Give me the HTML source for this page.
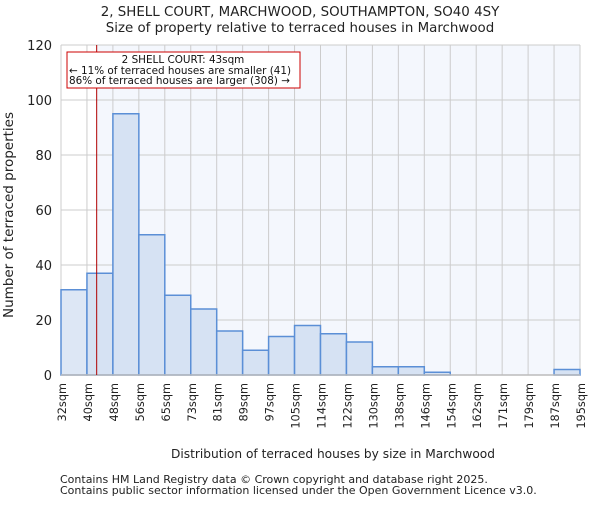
<!DOCTYPE html>
<html><head><meta charset="utf-8"><style>body{margin:0;background:#fff}svg text{font-family:"DejaVu Sans","Liberation Sans",sans-serif}</style></head>
<body>
<svg id="c" width="600" height="500" xmlns="http://www.w3.org/2000/svg"></svg>
<script>
const categories=["32sqm","40sqm","48sqm","56sqm","65sqm","73sqm","81sqm","89sqm","97sqm","105sqm","114sqm","122sqm","130sqm","138sqm","146sqm","154sqm","162sqm","171sqm","179sqm","187sqm","195sqm"];
const counts=[31,37,95,51,29,24,16,9,14,18,15,12,3,3,1,0,0,0,0,2];
const yTicks=[0,20,40,60,80,100,120];
const markerPos=1.375;
const svg=document.getElementById('c');const NS='http://www.w3.org/2000/svg';
const L=61,R=580,T=45,B=375,n=counts.length;
const x=i=>L+(R-L)*i/n;const y=v=>B-(B-T)*v/120;
function mk(t,a,p){const e=document.createElementNS(NS,t);for(const k in a)e.setAttribute(k,a[k]);(p||svg).appendChild(e);return e;}
let e;
e=mk('rect',{x:x(markerPos),y:T,width:R-x(markerPos),height:B-T,fill:'#f4f7fd'});


for(let i=0;i<=n;i++){e=mk('line',{x1:x(i),x2:x(i),y1:T,y2:B,stroke:'#cccccc','stroke-width':1});

}
yTicks.forEach(v=>{e=mk('line',{x1:L,x2:R,y1:y(v),y2:y(v),stroke:'#cccccc','stroke-width':1});


e=mk('text',{x:L-9,y:y(v)+5,'text-anchor':'end','font-size':13,fill:'#222'});e.textContent=v;

});
counts.forEach((c,i)=>{if(c<=0)return;e=mk('rect',{x:x(i),y:y(c),width:x(i+1)-x(i),height:B-y(c),fill:i<1?'#dde7f5':'#d6e2f3',stroke:'#5b8fd6','stroke-width':1.5});

});
categories.forEach((c,i)=>{e=mk('text',{transform:`translate(${x(i)+5},${B+8}) rotate(-90)`,'text-anchor':'end','font-size':11.3,fill:'#222'});e.textContent=c;

});
e=mk('line',{x1:L,x2:R,y1:B,y2:B,stroke:'#bbbbbb','stroke-width':1.5});


e=mk('line',{x1:x(markerPos),x2:x(markerPos),y1:T,y2:B,stroke:'#b00000','stroke-width':1});


const g=mk('g',{});
mk('rect',{x:67,y:52,width:233,height:36,fill:'#fff',stroke:'#cc0000','stroke-width':1},g);
[["2 SHELL COURT: 43sqm",183,63,'middle'],["← 11% of terraced houses are smaller (41)",69,74,'start'],["86% of terraced houses are larger (308) →",69,84,'start']].forEach(t=>{const q=mk('text',{x:t[1],y:t[2],'text-anchor':t[3],'font-size':10.4,fill:'#111'},g);q.textContent=t[0];});
[["2, SHELL COURT, MARCHWOOD, SOUTHAMPTON, SO40 4SY",300,16,13.4,'chart-title'],["Size of property relative to terraced houses in Marchwood",300,32,13.4,'chart-subtitle'],["Distribution of terraced houses by size in Marchwood",333,458,12.2,'x-axis-title'],["Contains HM Land Registry data © Crown copyright and database right 2025.",60,483,11,'footer-line-1'],["Contains public sector information licensed under the Open Government Licence v3.0.",60,494,11,'footer-line-2']].forEach(t=>{e=mk('text',{x:t[1],y:t[2],'text-anchor':t[1]===60?'start':'middle','font-size':t[3],fill:'#222'});e.textContent=t[0];

});
e=mk('text',{transform:'translate(13,215) rotate(-90)','text-anchor':'middle','font-size':13.5,fill:'#222'});e.textContent='Number of terraced properties';


</script>
</body></html>
